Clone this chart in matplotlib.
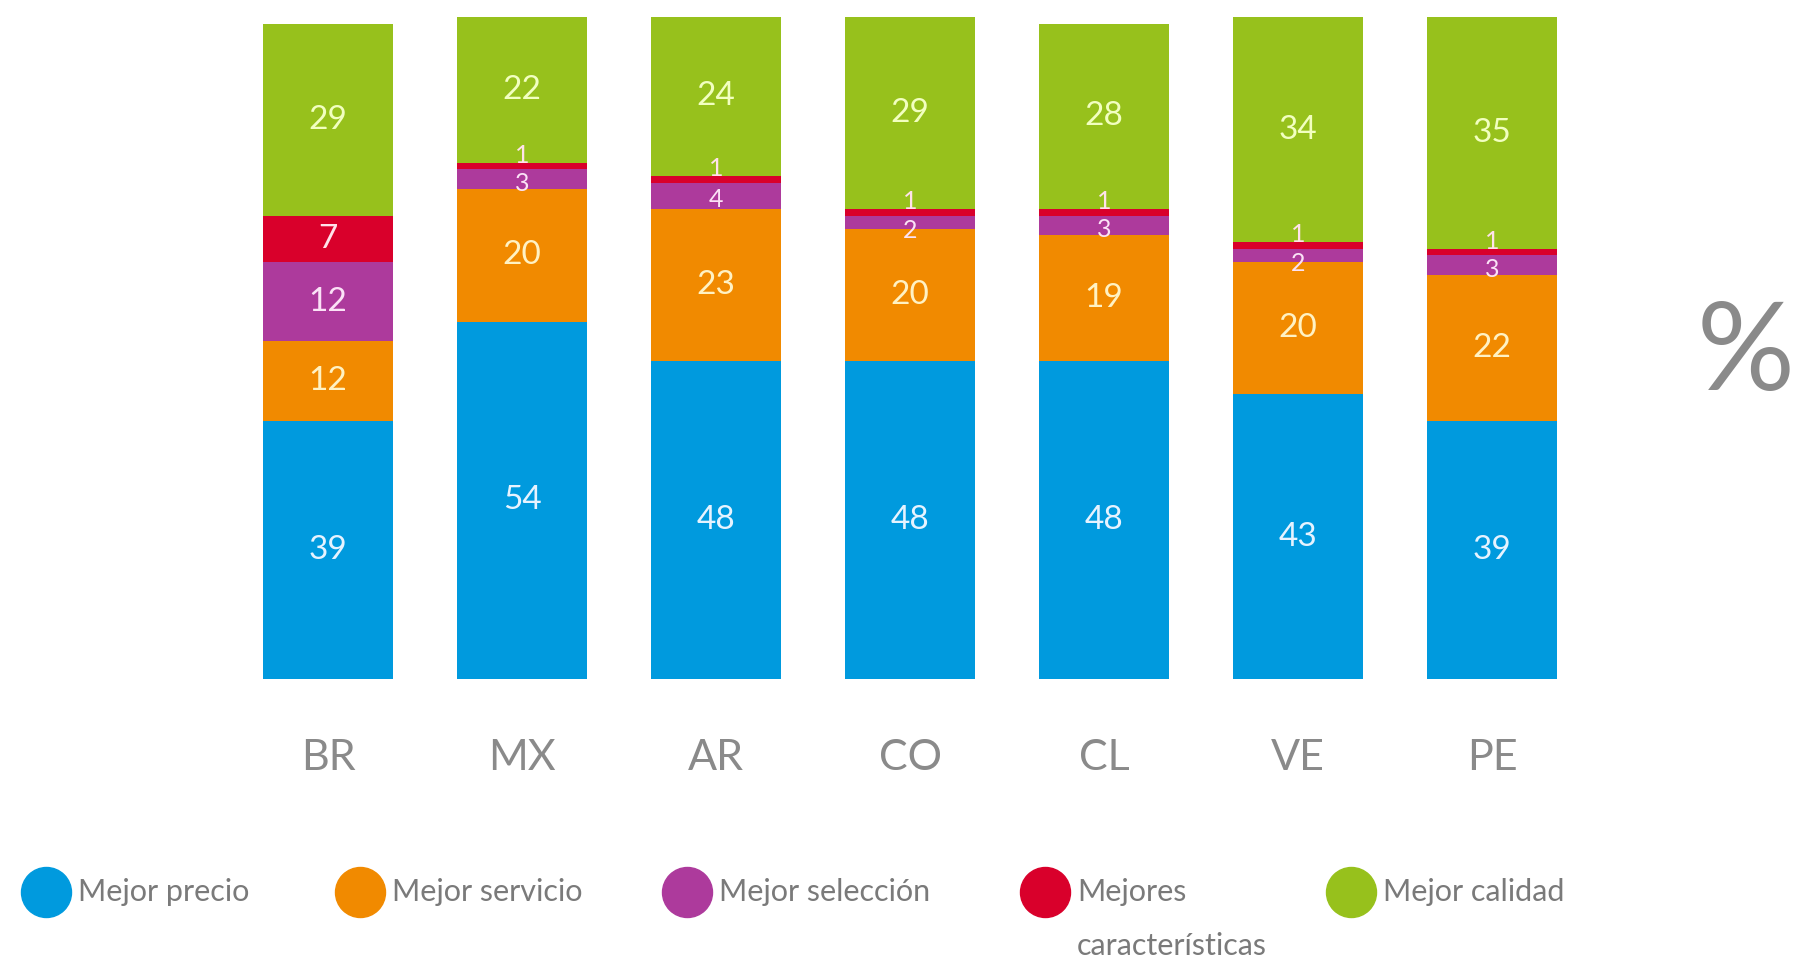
import numpy as np
import matplotlib.pyplot as plt
from matplotlib.lines import Line2D

countries = ['BR', 'MX', 'AR', 'CO', 'CL', 'VE', 'PE']
mejor_precio = [39, 54, 48, 48, 48, 43, 39]
mejor_servicio = [12, 20, 23, 20, 19, 20, 22]
mejor_seleccion = [12, 3, 4, 2, 3, 2, 3]
mejores_caract = [7, 1, 1, 1, 1, 1, 1]
mejor_calidad = [29, 22, 24, 29, 28, 34, 35]

series = [mejor_precio, mejor_servicio, mejor_seleccion, mejores_caract, mejor_calidad]
labels = ['Mejor precio', 'Mejor servicio', 'Mejor selección',
          'Mejores\ncaracterísticas', 'Mejor calidad']
colors = ['#009ade', '#f18a00', '#ad3a9c', '#d9002b', '#97c11c']
text_colors = ['#e6f3ff', '#fff2c4', '#fbe2f6', '#ffe2ea', '#f2ffc0']

plt.rcParams['font.family'] = ['Lato', 'DejaVu Sans']

fig = plt.figure(figsize=(18.01, 9.61), dpi=100)
ax = fig.add_axes([0.1283, 0.2934, 0.754, 0.6889])

x = np.arange(len(countries))
bottom = np.zeros(len(countries))
for k, (vals, col, tcol) in enumerate(zip(series, colors, text_colors)):
    vals = np.array(vals, dtype=float)
    ax.bar(x, vals, bottom=bottom, width=0.67, color=col, edgecolor='none')
    for xi, b, v in zip(x, bottom, vals):
        y = b + v / 2
        size = 24
        # thin slices: nudge labels apart so they stay readable
        if v < 5:
            size = 18
            if k == 3:
                y += 1.6
            elif v < 3:
                y -= 1.3
            else:
                y -= 0.6
        ax.text(xi, y, f'{int(v)}', ha='center', va='center',
                color=tcol, fontsize=size)
    bottom += vals

ax.set_xlim(-0.5, len(countries) - 0.5)
ax.set_ylim(0, 100)
ax.axis('off')

# country labels under the bars
for xi, c in zip(x, countries):
    ax.text(xi, -12, c, ha='center', va='center', fontsize=31,
            color='#8a8a8a', clip_on=False)

# big percent sign on the right
fig.text(0.969, 0.63, '%', ha='center', va='center', fontsize=88,
         color='#8a8a8a')

# legend drawn by hand
leg_y = 1 - 892 / 961
dot_x = [46, 360, 687, 1045, 1351]
for dx, lab, col in zip(dot_x, labels, colors):
    fig.add_artist(Line2D([dx / 1801], [leg_y], marker='o', markersize=36,
                          color=col, linestyle='none', transform=fig.transFigure))
    lines = lab.split('\n')
    fig.text((dx + 32) / 1801, leg_y, lines[0], ha='left', va='center',
             fontsize=22, color='#7a7a7a')
    if len(lines) > 1:
        fig.text((dx + 32) / 1801, 1 - 946 / 961, lines[1], ha='left', va='center',
                 fontsize=22, color='#7a7a7a')

fig.savefig('out.png', dpi=100, facecolor='white')
